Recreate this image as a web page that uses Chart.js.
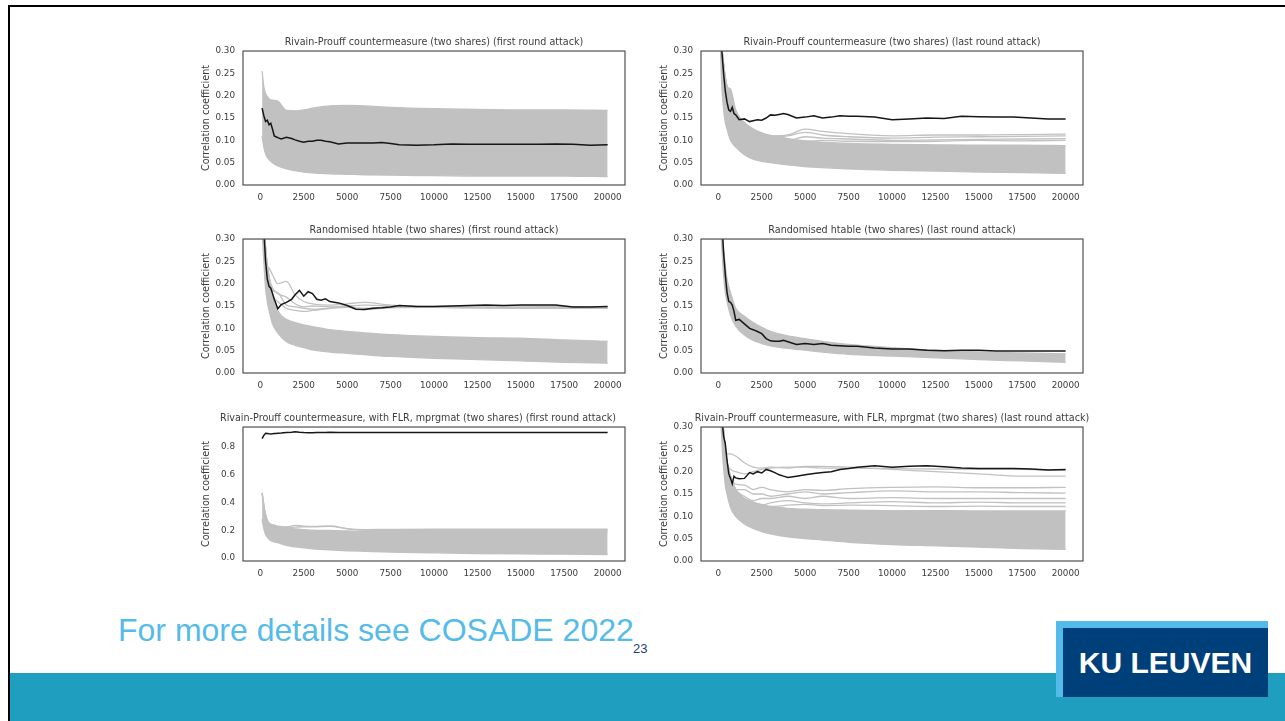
<!DOCTYPE html>
<html><head><meta charset="utf-8">
<script src="https://cdn.jsdelivr.net/npm/chart.js@4.4.1/dist/chart.umd.min.js"></script>
<style>
html,body{margin:0;padding:0;background:#fff;}
body{width:1285px;height:721px;overflow:hidden;position:relative;font-family:'Liberation Sans',Arial,sans-serif;}
canvas.cv{position:absolute;}
#frameTop{position:absolute;left:8px;top:5px;width:1277px;height:2px;background:#000;}
#frameLeft{position:absolute;left:8px;top:5px;width:2px;height:716px;background:#000;}
#band{position:absolute;left:10px;top:673px;width:1275px;height:48px;background:#1f9ebf;}
#note{position:absolute;left:118px;top:614px;font-size:32px;line-height:32px;color:#55bbe9;white-space:nowrap;}
#pnum{position:absolute;left:633px;top:642px;font-size:13px;line-height:13px;color:#1d3f7a;font-family:'Liberation Sans Narrow','Liberation Sans',Arial,sans-serif;}
#logoOuter{position:absolute;left:1056px;top:621px;width:212px;height:76px;background:#52bbea;}
#logoInner{position:absolute;left:1063px;top:628px;width:205px;height:69px;background:#00407a;color:#fff;font-weight:bold;font-size:30px;line-height:30px;text-align:center;}
#logoInner span{position:relative;top:20px;}
</style>
</head>
<body>
<div id="frameTop"></div><div id="frameLeft"></div>
<canvas class="cv" id="c1" width="474" height="179" style="left:197px;top:30px"></canvas>
<canvas class="cv" id="c2" width="474" height="179" style="left:655px;top:30px"></canvas>
<canvas class="cv" id="c3" width="474" height="179" style="left:197px;top:218px"></canvas>
<canvas class="cv" id="c4" width="474" height="179" style="left:655px;top:218px"></canvas>
<canvas class="cv" id="c5" width="442" height="179" style="left:197px;top:406px"></canvas>
<canvas class="cv" id="c6" width="474" height="179" style="left:655px;top:406px"></canvas>
<div id="band"></div>
<div id="note">For more details see COSADE 2022</div>
<div id="pnum">23</div>
<div id="logoOuter"></div>
<div id="logoInner"><span>KU LEUVEN</span></div>
<script>
// ---------- data ----------
const xTicks = [0, 2500, 5000, 7500, 10000, 12500, 15000, 17500, 20000];
const yTicksSmall = [0, 0.05, 0.10, 0.15, 0.20, 0.25, 0.30];
const yTicksFLR = [0, 0.2, 0.4, 0.6, 0.8];

const xFine = [100,200,300,400,500,600,700,800,900,1000,1200,1500,1800,2000,2250,2500,2750,3000,3250,3500,3750,4000,4500,5000,5500,6000,6500,7000,7500,8000,9000,10000,11000,12000,13000,14000,15000,16000,17000,18000,19000,20000];
const xCoarse = [100,200,300,400,500,700,1000,1500,2000,2500,3000,4000,5000,6000,7500,10000,12500,15000,17500,20000];

// correct key (black)
const rpFirstCorrect = [0.172,0.155,0.142,0.145,0.135,0.138,0.125,0.110,0.108,0.106,0.103,0.107,0.104,0.101,0.098,0.096,0.098,0.098,0.100,0.100,0.098,0.097,0.092,0.094,0.094,0.094,0.094,0.095,0.093,0.090,0.089,0.090,0.092,0.091,0.091,0.091,0.091,0.091,0.092,0.091,0.089,0.090];
const rpLastCorrect = [0.360,0.300,0.250,0.210,0.185,0.168,0.165,0.174,0.160,0.157,0.146,0.148,0.142,0.144,0.146,0.145,0.150,0.157,0.156,0.158,0.160,0.158,0.150,0.152,0.155,0.150,0.152,0.155,0.154,0.154,0.152,0.146,0.148,0.150,0.149,0.154,0.153,0.152,0.152,0.150,0.148,0.148];
const htFirstCorrect = [0.400,0.320,0.250,0.210,0.194,0.190,0.178,0.165,0.155,0.144,0.153,0.158,0.165,0.175,0.185,0.172,0.182,0.178,0.165,0.163,0.166,0.160,0.157,0.151,0.143,0.142,0.145,0.146,0.148,0.151,0.149,0.149,0.150,0.151,0.152,0.151,0.152,0.152,0.152,0.148,0.148,0.149];
const htLastCorrect = [0.450,0.340,0.270,0.220,0.180,0.160,0.158,0.152,0.138,0.118,0.120,0.110,0.100,0.097,0.093,0.088,0.077,0.072,0.071,0.071,0.073,0.070,0.064,0.066,0.064,0.066,0.062,0.061,0.060,0.060,0.056,0.054,0.054,0.051,0.050,0.051,0.051,0.049,0.049,0.049,0.049,0.049];
const flrFirstCorrect = [0.862,0.885,0.900,0.898,0.896,0.895,0.896,0.898,0.898,0.900,0.902,0.906,0.908,0.910,0.907,0.905,0.904,0.904,0.905,0.906,0.906,0.907,0.906,0.906,0.905,0.906,0.906,0.906,0.906,0.906,0.906,0.906,0.906,0.906,0.906,0.906,0.906,0.905,0.905,0.905,0.905,0.905];
const flrLastCorrect = [0.400,0.320,0.280,0.262,0.225,0.195,0.185,0.173,0.190,0.186,0.184,0.185,0.198,0.195,0.200,0.197,0.205,0.202,0.198,0.193,0.190,0.187,0.190,0.193,0.196,0.198,0.200,0.205,0.207,0.210,0.213,0.210,0.212,0.213,0.211,0.208,0.207,0.207,0.207,0.206,0.204,0.205];

// wrong keys: envelope of the grey mass (upper / lower)
const rpFirstUpper = [0.255,0.220,0.205,0.198,0.193,0.190,0.188,0.167,0.166,0.168,0.172,0.177,0.178,0.177,0.174,0.171,0.169,0.168,0.168,0.167];
const rpFirstLower = [0.110,0.085,0.070,0.062,0.057,0.050,0.043,0.036,0.032,0.029,0.027,0.025,0.024,0.023,0.022,0.021,0.020,0.020,0.020,0.019];
const rpLastUpper = [0.380,0.310,0.270,0.240,0.220,0.215,0.168,0.140,0.126,0.117,0.111,0.104,0.099,0.096,0.093,0.091,0.090,0.089,0.089,0.088];
const rpLastLower = [0.330,0.220,0.170,0.140,0.125,0.100,0.085,0.068,0.058,0.053,0.050,0.045,0.041,0.039,0.036,0.033,0.031,0.029,0.028,0.026];
const htFirstUpper = [0.400,0.330,0.280,0.240,0.215,0.175,0.140,0.120,0.113,0.108,0.104,0.097,0.093,0.090,0.086,0.082,0.079,0.078,0.074,0.071];
const htFirstLower = [0.320,0.250,0.190,0.160,0.140,0.110,0.090,0.070,0.062,0.057,0.052,0.047,0.044,0.041,0.037,0.033,0.030,0.027,0.024,0.022];
const htLastUpper = [0.420,0.330,0.280,0.240,0.210,0.180,0.145,0.127,0.113,0.102,0.093,0.083,0.077,0.071,0.064,0.057,0.051,0.047,0.045,0.043];
const htLastLower = [0.350,0.280,0.220,0.180,0.160,0.130,0.105,0.085,0.073,0.066,0.061,0.055,0.051,0.047,0.042,0.038,0.034,0.030,0.027,0.024];
const flrFirstUpper = [0.470,0.380,0.310,0.270,0.250,0.235,0.225,0.215,0.210,0.205,0.200,0.198,0.195,0.192,0.190,0.190,0.190,0.190,0.190,0.190];
const flrFirstLower = [0.280,0.210,0.170,0.150,0.135,0.120,0.110,0.090,0.080,0.072,0.066,0.058,0.052,0.048,0.043,0.037,0.032,0.029,0.027,0.025];
const flrLastUpper = [0.400,0.340,0.290,0.250,0.220,0.190,0.160,0.140,0.132,0.126,0.122,0.118,0.116,0.115,0.114,0.113,0.113,0.112,0.112,0.112];
const flrLastLower = [0.350,0.270,0.210,0.170,0.150,0.120,0.100,0.083,0.073,0.066,0.061,0.054,0.050,0.047,0.042,0.037,0.034,0.031,0.028,0.026];

// wrong keys standing out of the mass
const rpLastOutA = [0.380,0.310,0.270,0.240,0.220,0.200,0.160,0.135,0.122,0.115,0.110,0.112,0.125,0.120,0.115,0.110,0.112,0.112,0.113,0.114];
const rpLastOutB = [0.380,0.310,0.270,0.240,0.220,0.200,0.160,0.135,0.122,0.114,0.108,0.110,0.118,0.112,0.108,0.105,0.107,0.108,0.109,0.110];
const rpLastOutC = [0.380,0.310,0.270,0.240,0.220,0.200,0.160,0.135,0.120,0.112,0.105,0.100,0.108,0.105,0.103,0.100,0.101,0.102,0.103,0.104];
const rpLastOutD = [0.380,0.310,0.270,0.240,0.220,0.200,0.160,0.135,0.120,0.110,0.104,0.100,0.098,0.100,0.098,0.097,0.098,0.100,0.099,0.100];
const htFirstOut1 = [0.400,0.300,0.260,0.240,0.235,0.220,0.200,0.205,0.175,0.160,0.155,0.152,0.155,0.158,0.152,0.149,0.150,0.150,0.149,0.147];
const htFirstOut2 = [0.400,0.330,0.280,0.240,0.215,0.190,0.178,0.170,0.155,0.148,0.150,0.148,0.150,0.152,0.150,0.148,0.148,0.147,0.147,0.146];
const htFirstOut3 = [0.400,0.330,0.280,0.240,0.215,0.185,0.180,0.152,0.148,0.145,0.143,0.145,0.147,0.145,0.148,0.147,0.146,0.146,0.146,0.146];
const htFirstOut4 = [0.400,0.330,0.280,0.240,0.215,0.175,0.160,0.145,0.140,0.138,0.140,0.145,0.150,0.142,0.146,0.147,0.146,0.145,0.145,0.145];
const flrFirstOut1 = [0.470,0.380,0.310,0.270,0.250,0.240,0.230,0.225,0.235,0.230,0.228,0.232,0.212,0.205,0.206,0.207,0.207,0.207,0.207,0.207];
const flrFirstOut2 = [0.470,0.380,0.310,0.270,0.250,0.235,0.225,0.220,0.222,0.225,0.225,0.228,0.210,0.200,0.200,0.200,0.200,0.199,0.199,0.199];
const flrLastOut1 = [0.400,0.340,0.290,0.250,0.240,0.240,0.235,0.220,0.210,0.208,0.210,0.208,0.212,0.212,0.210,0.205,0.200,0.195,0.190,0.190];
const flrLastOut2 = [0.400,0.340,0.290,0.250,0.220,0.205,0.200,0.195,0.200,0.205,0.208,0.210,0.210,0.208,0.208,0.207,0.206,0.205,0.205,0.203];
const flrLastOut3 = [0.400,0.340,0.290,0.250,0.220,0.190,0.172,0.170,0.160,0.165,0.160,0.155,0.160,0.158,0.162,0.165,0.166,0.164,0.164,0.165];
const flrLastOut4 = [0.400,0.340,0.290,0.250,0.220,0.190,0.160,0.160,0.150,0.150,0.145,0.150,0.155,0.150,0.153,0.157,0.155,0.155,0.153,0.152];
const flrLastOut5 = [0.400,0.340,0.290,0.250,0.220,0.190,0.160,0.145,0.135,0.140,0.140,0.145,0.140,0.145,0.140,0.142,0.140,0.140,0.140,0.140];
const flrLastOut6 = [0.400,0.340,0.290,0.250,0.220,0.190,0.160,0.140,0.128,0.125,0.130,0.135,0.130,0.128,0.130,0.133,0.130,0.132,0.130,0.130];
const flrLastOut7 = [0.400,0.340,0.290,0.250,0.220,0.190,0.160,0.140,0.132,0.126,0.122,0.125,0.127,0.124,0.125,0.124,0.122,0.123,0.122,0.122];

const titles = [
  'Rivain-Prouff countermeasure (two shares) (first round attack)',
  'Rivain-Prouff countermeasure (two shares) (last round attack)',
  'Randomised htable (two shares) (first round attack)',
  'Randomised htable (two shares) (last round attack)',
  'Rivain-Prouff countermeasure, with FLR, mprgmat (two shares) (first round attack)',
  'Rivain-Prouff countermeasure, with FLR, mprgmat (two shares) (last round attack)'
];
const yLabel = 'Correlation coefficient';

// ---------- drawing ----------
const GREY = '#c1c1c1';
const TXT = '#3c3c3c';
const FONT = "'DejaVu Sans', sans-serif";

const framePlugin = {
  id: 'frame',
  afterDatasetsDraw(chart) {
    const a = chart.chartArea, ctx = chart.ctx;
    ctx.save();
    ctx.strokeStyle = '#505050';
    ctx.lineWidth = 1.2;
    ctx.strokeRect(a.left, a.top, a.right - a.left, a.bottom - a.top);
    ctx.restore();
  }
};

function pairs(xs, ys) { return xs.map((x, i) => ({x: x, y: ys[i]})); }

function makeChart(id, title, yMin, yMax, yTicks, dec, correct, upper, lower, outs) {
  const cv = document.getElementById(id);
  const padRight = cv.width - 46 - 382;
  const datasets = [];
  datasets.push({data: pairs(xFine, correct), borderColor: '#161616', borderWidth: 1.5, pointRadius: 0, fill: false, clip: 0});
  outs.forEach(o => datasets.push({data: pairs(xCoarse, o), borderColor: GREY, borderWidth: 1.3, pointRadius: 0, fill: false, cubicInterpolationMode: 'monotone', clip: 0}));
  datasets.push({data: pairs(xCoarse, upper), borderColor: GREY, borderWidth: 1.3, pointRadius: 0, fill: false, cubicInterpolationMode: 'monotone', clip: 0});
  datasets.push({data: pairs(xCoarse, lower), borderColor: GREY, backgroundColor: GREY, borderWidth: 1.3, pointRadius: 0, fill: '-1', cubicInterpolationMode: 'monotone', clip: 0});
  return new Chart(cv, {
    type: 'line',
    data: {datasets: datasets},
    plugins: [framePlugin],
    options: {
      responsive: false, animation: false, devicePixelRatio: 1,
      layout: {padding: 0},
      plugins: {
        legend: {display: false}, tooltip: {enabled: false},
        title: {display: true, text: title, color: TXT, font: {family: FONT, size: 9.6, weight: 'normal', lineHeight: 1.2}, padding: {top: 6.5, bottom: 3}}
      },
      scales: {
        x: {
          type: 'linear', min: -1000, max: 21000,
          grid: {display: false, drawTicks: false}, border: {display: false},
          afterBuildTicks: s => { s.ticks = xTicks.map(v => ({value: v})); },
          afterFit: s => { s.height = 24; },
          ticks: {color: TXT, font: {family: FONT, size: 8.8}, padding: 7, autoSkip: false, maxRotation: 0, callback: v => String(v)}
        },
        y: {
          type: 'linear', position: 'left', min: yMin, max: yMax,
          grid: {display: false, drawTicks: false}, border: {display: false},
          afterBuildTicks: s => { s.ticks = yTicks.map(v => ({value: v})); },
          afterFit: s => { s.width = 46; },
          ticks: {color: TXT, font: {family: FONT, size: 8.8}, padding: 8, autoSkip: false, callback: v => Number(v).toFixed(dec)},
          title: {display: true, text: yLabel, color: TXT, font: {family: FONT, size: 9.6}, padding: {top: 3.5, bottom: 0}}
        },
        yr: {
          type: 'linear', position: 'right', min: 0, max: 1,
          grid: {display: false, drawTicks: false}, border: {display: false},
          ticks: {display: false},
          afterFit: s => { s.width = padRight; }
        }
      }
    }
  });
}

makeChart('c1', titles[0], 0, 0.30, yTicksSmall, 2, rpFirstCorrect, rpFirstUpper, rpFirstLower, []);
makeChart('c2', titles[1], 0, 0.30, yTicksSmall, 2, rpLastCorrect, rpLastUpper, rpLastLower, [rpLastOutA, rpLastOutB, rpLastOutC, rpLastOutD]);
makeChart('c3', titles[2], 0, 0.30, yTicksSmall, 2, htFirstCorrect, htFirstUpper, htFirstLower, [htFirstOut1, htFirstOut2, htFirstOut3, htFirstOut4]);
makeChart('c4', titles[3], 0, 0.30, yTicksSmall, 2, htLastCorrect, htLastUpper, htLastLower, []);
makeChart('c5', titles[4], -0.022, 0.945, yTicksFLR, 1, flrFirstCorrect, flrFirstUpper, flrFirstLower, [flrFirstOut1, flrFirstOut2]);
makeChart('c6', titles[5], 0, 0.30, yTicksSmall, 2, flrLastCorrect, flrLastUpper, flrLastLower, [flrLastOut1, flrLastOut2, flrLastOut3, flrLastOut4, flrLastOut5, flrLastOut6, flrLastOut7]);
</script>
</body></html>
